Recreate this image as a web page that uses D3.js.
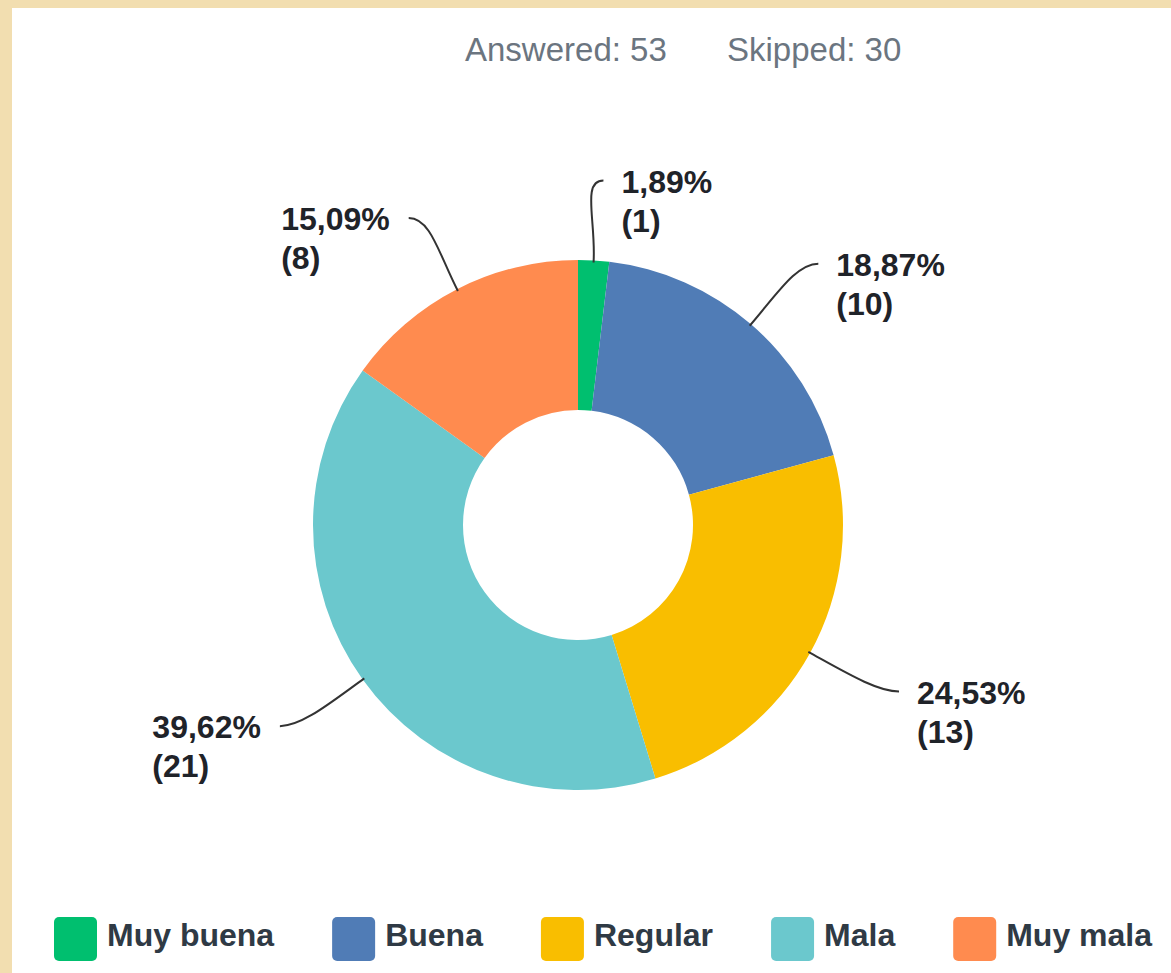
<!DOCTYPE html>
<html>
<head>
<meta charset="utf-8">
<script src="https://cdn.jsdelivr.net/npm/d3@7"></script>
<style>
  html, body { margin: 0; padding: 0; background: #f2deb0; }
  svg { display: block; }
</style>
</head>
<body>
<svg id="chart" width="1171" height="973"></svg>
<script>
const categories = ["Muy buena", "Buena", "Regular", "Mala", "Muy mala"];
const counts = [1, 10, 13, 21, 8];
const percents = ["1,89%", "18,87%", "24,53%", "39,62%", "15,09%"];
const colors = ["#00bf6f", "#507cb6", "#f9be00", "#6bc8cd", "#ff8b4f"];
const answered = 53;
const skipped = 30;

const svg = d3.select("#chart");
svg.append("rect").attr("x", 0).attr("y", 0).attr("width", 1171).attr("height", 973).attr("fill", "#f2deb0");
svg.append("rect").attr("x", 12).attr("y", 8).attr("width", 1159).attr("height", 965).attr("fill", "#ffffff");

// header
const hdr = svg.append("g").attr("font-family", "'Liberation Sans', Arial, sans-serif")
  .attr("font-size", 33).attr("fill", "#6b7580");
hdr.append("text").attr("x", 465).attr("y", 61).text(`Answered: ${answered}`);
hdr.append("text").attr("x", 727).attr("y", 61).text(`Skipped: ${skipped}`);

const cx = 578, cy = 525, rOuter = 265, rInner = 115;
const g = svg.append("g").attr("transform", `translate(${cx},${cy})`);
const pie = d3.pie().sort(null).value(d => d);
const arcs = pie(counts);
const arc = d3.arc().innerRadius(rInner).outerRadius(rOuter);

g.selectAll("path.slice").data(arcs).enter().append("path")
  .attr("class", "slice")
  .attr("d", arc)
  .attr("fill", (d, i) => colors[i]);

const polar = (a, r) => [r * Math.sin(a), -r * Math.cos(a)];

arcs.forEach((d, i) => {
  const mid = (d.startAngle + d.endAngle) / 2;
  const side = Math.sin(mid) >= 0 ? 1 : -1;
  const p0 = polar(mid, rOuter - 2);
  const p1 = polar(mid, rOuter + 40);
  const end = [362 * Math.sin(mid) + side * 4, -345 * Math.cos(mid)];
  const c2 = [end[0] - side * 22, end[1]];
  const path = d3.path();
  path.moveTo(p0[0], p0[1]);
  path.bezierCurveTo(p1[0], p1[1], c2[0], c2[1], end[0], end[1]);
  g.append("path").attr("d", path.toString())
    .attr("fill", "none").attr("stroke", "#333333").attr("stroke-width", 2);

  const lab = g.append("g")
    .attr("font-family", "'Liberation Sans', Arial, sans-serif")
    .attr("font-weight", "bold").attr("font-size", 32).attr("fill", "#1f2329");
  const t1 = lab.append("text").attr("y", end[1] + 12).text(percents[i]);
  lab.append("text").attr("y", end[1] + 51).text(`(${counts[i]})`);
  let x;
  if (side > 0) {
    x = end[0] + 18;
  } else {
    const w = t1.node().getComputedTextLength();
    x = end[0] - 19 - w;
  }
  lab.selectAll("text").attr("x", x);
});

// legend
const leg = svg.append("g").attr("font-family", "'Liberation Sans', Arial, sans-serif")
  .attr("font-weight", "bold").attr("font-size", 32).attr("fill", "#2f3a45");
let lx = 54;
categories.forEach((c, i) => {
  leg.append("rect").attr("x", lx).attr("y", 917).attr("width", 43).attr("height", 44)
    .attr("rx", 5).attr("fill", colors[i]);
  const t = leg.append("text").attr("x", lx + 53).attr("y", 946).text(c);
  const w = t.node().getComputedTextLength();
  lx = lx + 53 + w + 58;
});
</script>
</body>
</html>
